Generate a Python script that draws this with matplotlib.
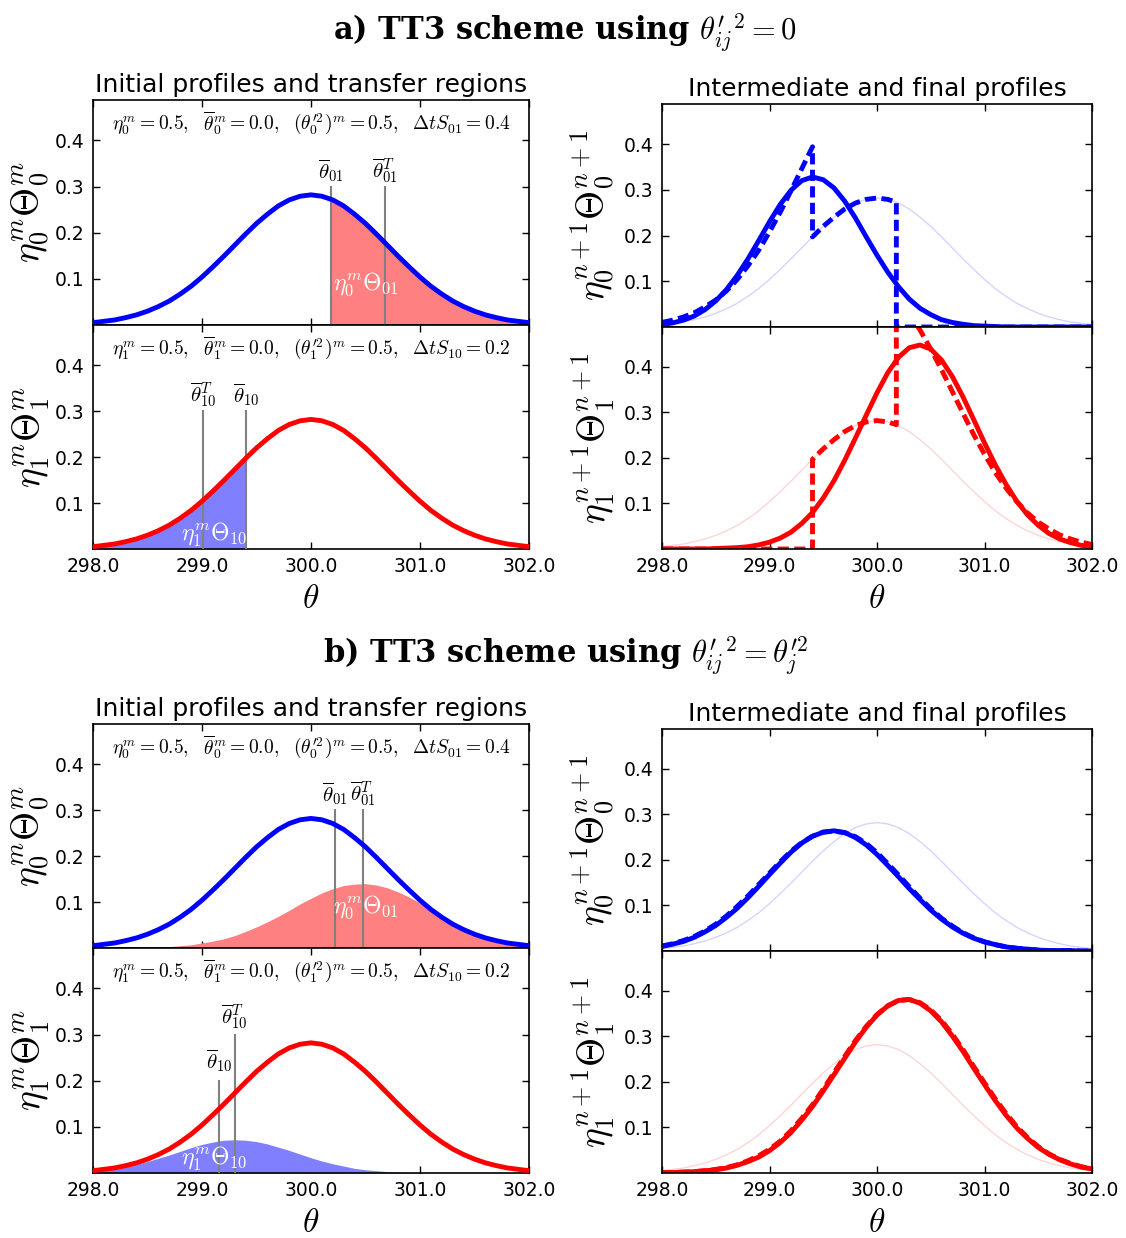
import numpy as np
import matplotlib
matplotlib.use("Agg")
import matplotlib.pyplot as plt
from matplotlib.ticker import FormatStrFormatter

plt.rcParams['mathtext.fontset'] = 'cm'
plt.rcParams['font.family'] = 'DejaVu Sans'

# sample positions of the smooth profiles
theta = np.linspace(298.0, 302.0, 41)

# initial profile eta^m Theta^m (identical for fluid 0 and fluid 1)
initial_profile = [0.005, 0.008, 0.011, 0.016, 0.022, 0.030, 0.040, 0.052, 0.067, 0.084,
                   0.104, 0.126, 0.149, 0.173, 0.197, 0.220, 0.240, 0.258, 0.271, 0.279,
                   0.282, 0.279, 0.271, 0.258, 0.240, 0.220, 0.197, 0.173, 0.149, 0.126,
                   0.104, 0.084, 0.067, 0.052, 0.040, 0.030, 0.022, 0.016, 0.011, 0.008,
                   0.005]

# ---- a) theta'_ij^2 = 0 ----
# transfer region 0 -> 1 (upper tail of fluid 0)
transfer_a0_theta = [300.18, 300.2, 300.3, 300.4, 300.5, 300.6, 300.7, 300.8, 300.9, 301.0,
                     301.1, 301.2, 301.3, 301.4, 301.5, 301.6, 301.7, 301.8, 301.9, 302.0]
transfer_a0 = [0.273, 0.271, 0.258, 0.240, 0.220, 0.197, 0.173, 0.149, 0.126, 0.104,
               0.084, 0.067, 0.052, 0.040, 0.030, 0.022, 0.016, 0.011, 0.008, 0.005]
# transfer region 1 -> 0 (lower tail of fluid 1)
transfer_a1_theta = [298.0, 298.1, 298.2, 298.3, 298.4, 298.5, 298.6, 298.7, 298.8, 298.9,
                     299.0, 299.1, 299.2, 299.3, 299.4]
transfer_a1 = [0.005, 0.008, 0.011, 0.016, 0.022, 0.030, 0.040, 0.052, 0.067, 0.084,
               0.104, 0.126, 0.149, 0.173, 0.197]
lines_a0 = [300.18, 300.68]   # theta_01, theta_01^T
lines_a1 = [299.01, 299.405]  # theta_10^T, theta_10

# intermediate profiles (dashed)
mid_a0_theta = [298.0, 298.1, 298.2, 298.3, 298.4, 298.5, 298.6, 298.7, 298.8, 298.9,
                299.0, 299.1, 299.2, 299.3, 299.4, 299.4, 299.5, 299.6, 299.7, 299.8,
                299.9, 300.0, 300.1, 300.18, 300.18, 302.0]
mid_a0 = [0.010, 0.015, 0.022, 0.031, 0.044, 0.059, 0.079, 0.104, 0.134, 0.168,
          0.208, 0.251, 0.298, 0.346, 0.394, 0.197, 0.220, 0.240, 0.258, 0.271,
          0.279, 0.282, 0.279, 0.273, 0.0, 0.0]
mid_a1_theta = [298.0, 299.4, 299.4, 299.5, 299.6, 299.7, 299.8, 299.9, 300.0, 300.1,
                300.18, 300.18, 300.2, 300.3, 300.4, 300.5, 300.6, 300.7, 300.8, 300.9,
                301.0, 301.1, 301.2, 301.3, 301.4, 301.5, 301.6, 301.7, 301.8, 301.9, 302.0]
mid_a1 = [0.0, 0.0, 0.197, 0.220, 0.240, 0.258, 0.271, 0.279, 0.282, 0.279,
          0.273, 0.546, 0.542, 0.516, 0.481, 0.439, 0.394, 0.346, 0.298, 0.251,
          0.208, 0.168, 0.134, 0.104, 0.079, 0.059, 0.044, 0.031, 0.022, 0.015, 0.010]

# final profiles (solid)
final_a0 = [0.005, 0.009, 0.015, 0.024, 0.038, 0.057, 0.082, 0.113, 0.149, 0.189,
            0.230, 0.268, 0.299, 0.320, 0.328, 0.322, 0.304, 0.275, 0.238, 0.197,
            0.157, 0.120, 0.088, 0.061, 0.041, 0.027, 0.016, 0.010, 0.006, 0.003,
            0.002, 0.001, 0.000, 0.000, 0.000, 0.000, 0.000, 0.000, 0.000, 0.000,
            0.000]
final_a1 = [0.000, 0.000, 0.000, 0.000, 0.000, 0.001, 0.002, 0.003, 0.005, 0.009,
            0.015, 0.024, 0.037, 0.056, 0.080, 0.112, 0.150, 0.195, 0.244, 0.294,
            0.343, 0.387, 0.421, 0.442, 0.448, 0.439, 0.415, 0.379, 0.334, 0.284,
            0.233, 0.185, 0.142, 0.105, 0.075, 0.052, 0.034, 0.022, 0.014, 0.008,
            0.005]

# ---- b) theta'_ij^2 = theta'_j^2 ----
transfer_b0 = [0.000, 0.000, 0.000, 0.000, 0.001, 0.001, 0.002, 0.003, 0.005, 0.007,
               0.011, 0.015, 0.020, 0.027, 0.036, 0.046, 0.057, 0.069, 0.082, 0.096,
               0.108, 0.120, 0.129, 0.136, 0.139, 0.140, 0.137, 0.131, 0.122, 0.111,
               0.098, 0.084, 0.067, 0.052, 0.040, 0.030, 0.022, 0.016, 0.011, 0.008,
               0.005]
transfer_b1 = [0.004, 0.007, 0.010, 0.014, 0.019, 0.025, 0.032, 0.039, 0.047, 0.055,
               0.062, 0.067, 0.071, 0.072, 0.071, 0.068, 0.063, 0.056, 0.049, 0.041,
               0.033, 0.026, 0.020, 0.015, 0.010, 0.007, 0.005, 0.003, 0.002, 0.001,
               0.001, 0.000, 0.000, 0.000, 0.000, 0.000, 0.000, 0.000, 0.000, 0.000,
               0.000]
lines_b0 = [300.22, 300.48]   # theta_01, theta_01^T
lines_b1 = [299.16, 299.30]   # theta_10, theta_10^T

mid_b0 = [0.011, 0.016, 0.023, 0.032, 0.044, 0.059, 0.077, 0.098, 0.121, 0.146,
          0.171, 0.196, 0.219, 0.238, 0.252, 0.261, 0.263, 0.260, 0.251, 0.236,
          0.216, 0.192, 0.167, 0.141, 0.116, 0.093, 0.072, 0.055, 0.040, 0.029,
          0.020, 0.014, 0.009, 0.006, 0.004, 0.002, 0.001, 0.001, 0.001, 0.000,
          0.000]
final_b0 = [0.010, 0.015, 0.021, 0.030, 0.042, 0.056, 0.074, 0.094, 0.117, 0.142,
            0.168, 0.193, 0.217, 0.237, 0.252, 0.261, 0.264, 0.260, 0.249, 0.233,
            0.212, 0.188, 0.163, 0.137, 0.113, 0.090, 0.070, 0.053, 0.039, 0.028,
            0.020, 0.014, 0.009, 0.006, 0.004, 0.002, 0.001, 0.001, 0.001, 0.000,
            0.000]
mid_b1 = [0.001, 0.001, 0.002, 0.003, 0.005, 0.008, 0.012, 0.018, 0.027, 0.038,
          0.052, 0.070, 0.093, 0.120, 0.150, 0.184, 0.220, 0.256, 0.291, 0.322,
          0.348, 0.367, 0.379, 0.381, 0.374, 0.358, 0.335, 0.305, 0.271, 0.234,
          0.198, 0.163, 0.131, 0.102, 0.078, 0.058, 0.042, 0.030, 0.021, 0.014,
          0.009]
final_b1 = [0.001, 0.001, 0.002, 0.003, 0.005, 0.007, 0.011, 0.017, 0.025, 0.035,
            0.049, 0.067, 0.089, 0.116, 0.146, 0.180, 0.216, 0.252, 0.288, 0.320,
            0.347, 0.367, 0.379, 0.381, 0.373, 0.356, 0.332, 0.301, 0.267, 0.230,
            0.194, 0.159, 0.127, 0.099, 0.076, 0.056, 0.041, 0.029, 0.020, 0.013,
            0.009]

info0 = r'$\eta_0^m=0.5,\ \ \overline{\theta}_0^m=0.0,\ \ (\theta_0^{\prime 2})^m=0.5,\ \ \Delta t S_{01}=0.4$'
info1 = r'$\eta_1^m=0.5,\ \ \overline{\theta}_1^m=0.0,\ \ (\theta_1^{\prime 2})^m=0.5,\ \ \Delta t S_{10}=0.2$'

LW = 3.5
DASH = (0, (2.3, 1.1))
FAINT_B = (0.0, 0.0, 1.0, 0.17)
FAINT_R = (1.0, 0.0, 0.0, 0.17)

fig = plt.figure(figsize=(11.26, 12.38), dpi=100)
W, H = 1126.0, 1238.0


def make_axes(left, top, right, bottom):
    return fig.add_axes([left / W, 1 - bottom / H, (right - left) / W, (bottom - top) / H])


def style(ax, ylabel, xlabels, label_x):
    ax.set_xlim(298, 302)
    ax.set_ylim(0, 0.4875)
    ax.set_xticks([298, 299, 300, 301, 302])
    ax.set_yticks([0.1, 0.2, 0.3, 0.4])
    ax.xaxis.set_major_formatter(FormatStrFormatter('%.1f'))
    ax.tick_params(direction='in', top=True, right=True, length=5, width=1, labelsize=13.5)
    ax.tick_params(axis='y', pad=6)
    ax.tick_params(axis='x', pad=6)
    for s in ax.spines.values():
        s.set_linewidth(1.2)
    ax.set_ylabel(ylabel, fontsize=27)
    ax.yaxis.set_label_coords(label_x, 0.5)
    if xlabels:
        ax.set_xlabel(r'$\theta$', fontsize=24, labelpad=4)
    else:
        ax.tick_params(labelbottom=False)


def theta_line(ax, x, top, label, label_y):
    ax.plot([x, x], [0, top], color='0.5', lw=1.5, zorder=3)
    ax.text(x, label_y, label, ha='center', va='center', fontsize=15, zorder=5)


def initial_panels(top_y, mid_y, bot_y, fill0_x, fill0_y, fill1_x, fill1_y,
                   l0, l1, l1_tops, l1_labels):
    ax0 = make_axes(93, top_y, 529, mid_y)
    ax0.fill_between(fill0_x, fill0_y, color='#ff8080', lw=0, zorder=2)
    ax0.plot(theta, initial_profile, color='blue', lw=LW, zorder=4)
    theta_line(ax0, l0[0], 0.3, r'$\overline{\theta}_{01}$', 0.335)
    theta_line(ax0, l0[1], 0.3, r'$\overline{\theta}_{01}^T$', 0.335)
    ax0.text(300.5, 0.088, r'$\eta_0^m\Theta_{01}$', color='white', fontsize=17,
             ha='center', va='center', zorder=6)
    ax0.text(0.5, 0.9, info0, transform=ax0.transAxes, ha='center', va='center', fontsize=14)
    ax0.set_title('Initial profiles and transfer regions', fontsize=18, pad=6)
    style(ax0, r'$\eta_0^m\Theta_0^m$', False, -0.095)

    ax1 = make_axes(93, mid_y, 529, bot_y)
    ax1.fill_between(fill1_x, fill1_y, color='#8080ff', lw=0, zorder=2)
    ax1.plot(theta, initial_profile, color='red', lw=LW, zorder=4)
    for x, t, lab in zip(l1, l1_tops, l1_labels):
        theta_line(ax1, x, t, lab[0], lab[1])
    ax1.text(299.11, 0.031, r'$\eta_1^m\Theta_{10}$', color='white', fontsize=17,
             ha='center', va='center', zorder=6)
    ax1.text(0.5, 0.9, info1, transform=ax1.transAxes, ha='center', va='center', fontsize=14)
    style(ax1, r'$\eta_1^m\Theta_1^m$', True, -0.095)


def final_panels(top_y, mid_y, bot_y, mid0_x, mid0, fin0, mid1_x, mid1, fin1):
    ax0 = make_axes(662, top_y, 1092, mid_y)
    ax0.plot(theta, initial_profile, color=FAINT_B, lw=1)
    ax0.plot(mid0_x, mid0, color='blue', lw=LW, ls=DASH)
    ax0.plot(theta, fin0, color='blue', lw=LW)
    ax0.set_title('Intermediate and final profiles', fontsize=18, pad=6)
    style(ax0, r'$\eta_0^{n+1}\Theta_0^{n+1}$', False, -0.105)

    ax1 = make_axes(662, mid_y, 1092, bot_y)
    ax1.plot(theta, initial_profile, color=FAINT_R, lw=1)
    ax1.plot(mid1_x, mid1, color='red', lw=LW, ls=DASH)
    ax1.plot(theta, fin1, color='red', lw=LW)
    style(ax1, r'$\eta_1^{n+1}\Theta_1^{n+1}$', True, -0.105)


# ---------------- a) ----------------
fig.text(0.502, 1 - 33 / H, 'a) TT3 scheme using ' + r'${\theta^{\prime}_{ij}}^2 = 0$',
         ha='center', va='center', fontsize=22, fontweight='bold', family='DejaVu Serif')
initial_panels(100, 325, 549, transfer_a0_theta, transfer_a0, transfer_a1_theta, transfer_a1,
               lines_a0, lines_a1, [0.3, 0.3],
               [(r'$\overline{\theta}_{10}^T$', 0.335), (r'$\overline{\theta}_{10}$', 0.335)])
final_panels(104, 327, 549, mid_a0_theta, mid_a0, final_a0, mid_a1_theta, mid_a1, final_a1)

# ---------------- b) ----------------
fig.text(0.502, 1 - 656 / H, 'b) TT3 scheme using ' + r'${\theta^{\prime}_{ij}}^2 = \theta_j^{\prime 2}$',
         ha='center', va='center', fontsize=22, fontweight='bold', family='DejaVu Serif')
initial_panels(724, 948, 1173, theta, transfer_b0, theta, transfer_b1,
               lines_b0, lines_b1, [0.2, 0.3],
               [(r'$\overline{\theta}_{10}$', 0.243), (r'$\overline{\theta}_{10}^T$', 0.338)])
final_panels(729, 951, 1173, theta, mid_b0, final_b0, theta, mid_b1, final_b1)

fig.savefig('out.png', dpi=100, facecolor='white')
